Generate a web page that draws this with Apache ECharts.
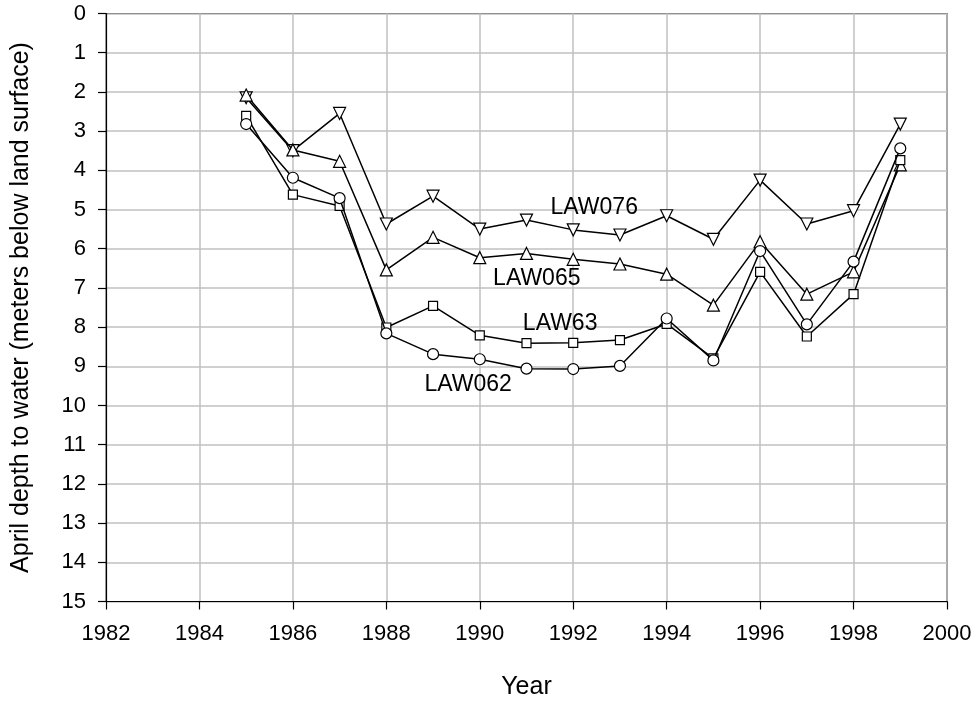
<!DOCTYPE html>
<html>
<head>
<meta charset="utf-8">
<script src="https://cdn.jsdelivr.net/npm/echarts@6/dist/echarts.min.js"></script>
<style>
html,body{margin:0;padding:0;background:#fff;}
#chart{width:979px;height:702px;}
</style>
</head>
<body>
<div id="chart"></div>
<script>
var years = [1985,1986,1987,1988,1989,1990,1991,1992,1993,1994,1995,1996,1997,1998,1999];
var law076 = [2.15,3.50,2.55,5.37,4.66,5.50,5.27,5.52,5.65,5.16,5.76,4.25,5.37,5.03,2.82];
var law065 = [2.08,3.48,3.77,6.54,5.71,6.23,6.12,6.27,6.39,6.65,7.44,5.82,7.16,6.59,3.86];
var law63  = [2.61,4.62,4.91,8.01,7.46,8.21,8.41,8.40,8.33,7.92,8.80,6.59,8.24,7.16,3.74];
var law062 = [2.82,4.19,4.71,8.16,8.69,8.82,9.06,9.07,8.99,7.78,8.85,6.06,7.93,6.33,3.44];
var seriesNames = ['LAW076','LAW065','LAW63','LAW062'];
// label anchor points (year, depth) where each series name is written
var labelYears = [1992.45,1991.22,1991.72,1989.75];
var labelDepths = [4.96,6.77,7.90,9.48];
var xTitle = 'Year';
var yTitle = 'April depth to water (meters below land surface)';

function pairs(vals){ return years.map(function(y,i){ return [y, vals[i]]; }); }

var FONT = '"Liberation Sans", Arial, sans-serif';
var markers = [
  {symbol:'triangle', rotate:180, size:12},
  {symbol:'triangle', rotate:0, size:12},
  {symbol:'rect', rotate:0, size:9},
  {symbol:'circle', rotate:0, size:11}
];
var allVals = [law076, law065, law63, law062];

var series = allVals.map(function(vals, i){
  return {
    name: seriesNames[i],
    type: 'line',
    data: pairs(vals),
    symbol: markers[i].symbol,
    symbolRotate: markers[i].rotate,
    symbolSize: markers[i].size,
    showAllSymbol: true,
    lineStyle: {color:'#000', width:1.5},
    itemStyle: {color:'#fff', borderColor:'#000', borderWidth:1.2},
    emphasis: {disabled:true},
    animation: false,
    z: 3 + i,
    markPoint: {
      symbol: 'circle',
      symbolSize: 0,
      animation: false,
      label: {
        show: true, position: 'inside', formatter: seriesNames[i],
        color: '#000', fontFamily: FONT, fontSize: 23
      },
      data: [{coord: [labelYears[i], labelDepths[i]]}]
    }
  };
});

var chart = echarts.init(document.getElementById('chart'), null, {renderer:'canvas'});
chart.setOption({
  backgroundColor: '#fff',
  animation: false,
  grid: {left:106, right:32, top:13.5, bottom:100.5, show:true, borderColor:'#000', borderWidth:1.2,
         containLabel:false, outerBoundsMode:'none'},
  xAxis: {
    type:'value', min:1982, max:2000, interval:2,
    name: xTitle, nameLocation:'middle', nameGap:73,
    nameTextStyle:{fontFamily:FONT, fontSize:25, color:'#000'},
    axisLine:{show:true, onZero:false, lineStyle:{color:'#000', width:1.2}},
    axisTick:{show:true, length:8, lineStyle:{color:'#000', width:1.2}},
    axisLabel:{fontFamily:FONT, fontSize:22, color:'#000', margin:21,
               formatter:function(v){ return String(v); }},
    splitLine:{show:true, lineStyle:{color:'#c0c0c0', width:1.5}}
  },
  yAxis: {
    type:'value', min:0, max:15, interval:1, inverse:true,
    name: yTitle, nameLocation:'middle', nameGap:72,
    nameTextStyle:{fontFamily:FONT, fontSize:25, color:'#000'},
    axisLine:{show:true, onZero:false, lineStyle:{color:'#000', width:1.2}},
    axisTick:{show:true, length:8, lineStyle:{color:'#000', width:1.2}},
    axisLabel:{fontFamily:FONT, fontSize:22, color:'#000', margin:20},
    splitLine:{show:true, lineStyle:{color:'#c0c0c0', width:1.5}}
  },
  series: series
});
</script>
</body>
</html>
